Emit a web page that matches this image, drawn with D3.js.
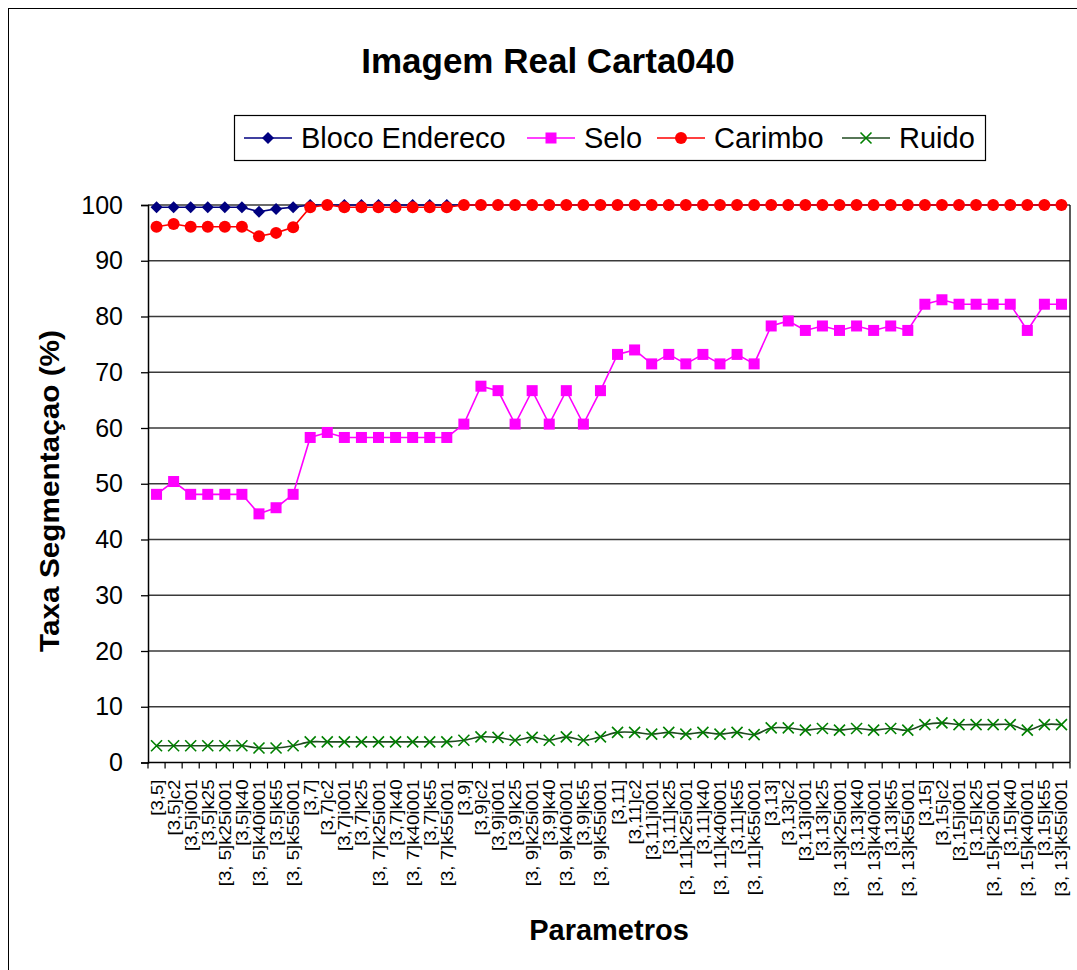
<!DOCTYPE html>
<html>
<head>
<meta charset="utf-8">
<script src="https://cdn.jsdelivr.net/npm/d3@7"></script>
<style>
  body { margin: 0; background: #fff; }
  svg text { font-family: "Liberation Sans", Arial, sans-serif; }
</style>
</head>
<body>
<svg id="chart" width="1077" height="970"></svg>
<script>
// categorie asse X (parametri)
const categories = [
  "[3,5]", "[3,5]c2", "[3,5]i001", "[3,5]k25", "[3, 5]k25i001", "[3,5]k40", "[3, 5]k40i001", "[3,5]k55", "[3, 5]k55i001",
  "[3,7]", "[3,7]c2", "[3,7]i001", "[3,7]k25", "[3, 7]k25i001", "[3,7]k40", "[3, 7]k40i001", "[3,7]k55", "[3, 7]k55i001",
  "[3,9]", "[3,9]c2", "[3,9]i001", "[3,9]k25", "[3, 9]k25i001", "[3,9]k40", "[3, 9]k40i001", "[3,9]k55", "[3, 9]k55i001",
  "[3,11]", "[3,11]c2", "[3,11]i001", "[3,11]k25", "[3, 11]k25i001", "[3,11]k40", "[3, 11]k40i001", "[3,11]k55", "[3, 11]k55i001",
  "[3,13]", "[3,13]c2", "[3,13]i001", "[3,13]k25", "[3, 13]k25i001", "[3,13]k40", "[3, 13]k40i001", "[3,13]k55", "[3, 13]k55i001",
  "[3,15]", "[3,15]c2", "[3,15]i001", "[3,15]k25", "[3, 15]k25i001", "[3,15]k40", "[3, 15]k40i001", "[3,15]k55", "[3, 13]k55i001"
];

// serie
const blocoEndereco = [
  99.6, 99.6, 99.6, 99.6, 99.6, 99.6, 98.8, 99.3, 99.6,
  100, 100, 100, 100, 100, 100, 100, 100, 100,
  100, 100, 100, 100, 100, 100, 100, 100, 100,
  100, 100, 100, 100, 100, 100, 100, 100, 100,
  100, 100, 100, 100, 100, 100, 100, 100, 100,
  100, 100, 100, 100, 100, 100, 100, 100, 100
];
const selo = [
  48.1, 50.4, 48.1, 48.1, 48.1, 48.1, 44.6, 45.7, 48.1,
  58.3, 59.2, 58.3, 58.3, 58.3, 58.3, 58.3, 58.3, 58.3,
  60.7, 67.5, 66.7, 60.7, 66.7, 60.7, 66.7, 60.7, 66.7,
  73.2, 74.0, 71.5, 73.2, 71.5, 73.2, 71.5, 73.2, 71.5,
  78.3, 79.2, 77.5, 78.3, 77.5, 78.3, 77.5, 78.3, 77.5,
  82.2, 83.0, 82.2, 82.2, 82.2, 82.2, 77.5, 82.2, 82.2
];
const carimbo = [
  96.1, 96.6, 96.1, 96.1, 96.1, 96.1, 94.4, 95.0, 96.0,
  99.6, 100, 99.6, 99.6, 99.6, 99.6, 99.6, 99.6, 99.6,
  100, 100, 100, 100, 100, 100, 100, 100, 100,
  100, 100, 100, 100, 100, 100, 100, 100, 100,
  100, 100, 100, 100, 100, 100, 100, 100, 100,
  100, 100, 100, 100, 100, 100, 100, 100, 100
];
const ruido = [
  3.0, 3.0, 3.0, 3.0, 3.0, 3.0, 2.6, 2.6, 3.0,
  3.7, 3.7, 3.7, 3.7, 3.7, 3.7, 3.7, 3.7, 3.7,
  4.0, 4.6, 4.5, 4.0, 4.5, 4.0, 4.6, 4.0, 4.6,
  5.4, 5.4, 5.1, 5.4, 5.1, 5.4, 5.1, 5.4, 5.0,
  6.2, 6.2, 5.8, 6.1, 5.8, 6.1, 5.8, 6.1, 5.8,
  6.8, 7.1, 6.8, 6.8, 6.8, 6.8, 5.8, 6.8, 6.8
];
const yTicks = [0, 10, 20, 30, 40, 50, 60, 70, 80, 90, 100];

const series = [
  { name: "Bloco Endereco", values: blocoEndereco, color: "#000080", marker: "diamond" },
  { name: "Selo", values: selo, color: "#ff00ff", marker: "square" },
  { name: "Carimbo", values: carimbo, color: "#ff0000", marker: "circle" },
  { name: "Ruido", values: ruido, color: "#008000", lineColor: "#1f4a1f", marker: "cross", smooth: true }
];

const svg = d3.select("#chart");

// bordo esterno del grafico
svg.append("rect")
  .attr("x", 8.5).attr("y", 8.5)
  .attr("width", 1100).attr("height", 1000)
  .style("fill", "none").style("stroke", "#000").style("stroke-width", 1);

const plot = { left: 148, right: 1070, top: 205, bottom: 762.5 };

// dominio per indice: l'ultima etichetta ripete "[3, 13]k55i001"
const idx = d3.range(categories.length);
const x = d3.scaleBand().domain(idx).range([plot.left, plot.right]).padding(0);
const y = d3.scaleLinear().domain([0, 100]).range([plot.bottom, plot.top]);
const cx = i => x(i) + x.bandwidth() / 2;

// griglia
svg.append("g")
  .selectAll("line")
  .data(yTicks.filter(t => t > 0))
  .enter().append("line")
  .attr("x1", plot.left).attr("x2", plot.right)
  .attr("y1", d => y(d)).attr("y2", d => y(d))
  .style("stroke", "#3a3a3a").style("stroke-width", 1.3);

// bordo destro area grafico
svg.append("line")
  .attr("x1", plot.right).attr("x2", plot.right)
  .attr("y1", plot.top).attr("y2", plot.bottom)
  .style("stroke", "#000").style("stroke-width", 1.3);

// asse Y
const yAxis = svg.append("g")
  .attr("transform", `translate(${plot.left},0)`)
  .call(d3.axisLeft(y).tickValues(yTicks).tickSize(7).tickPadding(18));
yAxis.select(".domain").style("stroke", "#000").style("stroke-width", 1.5);
yAxis.selectAll(".tick line").style("stroke", "#000").style("stroke-width", 1.3);
yAxis.selectAll(".tick text")
  .style("font-size", "25px").style("fill", "#000")
  .style("font-family", "'Liberation Sans', Arial, sans-serif");

// asse X: linea e tacche sui bordi delle categorie
svg.append("line")
  .attr("x1", plot.left).attr("x2", plot.right)
  .attr("y1", plot.bottom).attr("y2", plot.bottom)
  .style("stroke", "#000").style("stroke-width", 1.5);

const boundaries = idx.map(i => x(i)).concat([plot.right]);
svg.append("g")
  .selectAll("line")
  .data(boundaries)
  .enter().append("line")
  .attr("x1", d => d).attr("x2", d => d)
  .attr("y1", plot.bottom).attr("y2", plot.bottom + 6)
  .style("stroke", "#000").style("stroke-width", 1.2);

// etichette X ruotate (testo un po' allungato come nell'originale)
svg.append("g")
  .selectAll("text")
  .data(idx)
  .enter().append("text")
  .attr("transform", i => `translate(${cx(i) + 6},${plot.bottom + 17}) rotate(-90) scale(1.13,1)`)
  .style("text-anchor", "end")
  .style("font-size", "16.5px")
  .style("fill", "#000")
  .text(i => categories[i]);

// simboli
function drawMarker(g, type, color, px, py) {
  if (type === "diamond") {
    g.append("path")
      .attr("d", `M${px},${py - 6} L${px + 6},${py} L${px},${py + 6} L${px - 6},${py} Z`)
      .style("fill", color);
  } else if (type === "square") {
    g.append("rect")
      .attr("x", px - 5.5).attr("y", py - 5.5)
      .attr("width", 11).attr("height", 11)
      .style("fill", color);
  } else if (type === "circle") {
    g.append("circle")
      .attr("cx", px).attr("cy", py).attr("r", 6)
      .style("fill", color);
  } else if (type === "cross") {
    g.append("path")
      .attr("d", `M${px - 5.5},${py - 5.5} L${px + 5.5},${py + 5.5} M${px - 5.5},${py + 5.5} L${px + 5.5},${py - 5.5}`)
      .style("stroke", color).style("stroke-width", 1.6).style("fill", "none");
  }
}

series.forEach(s => {
  const pts = idx.map(i => [cx(i), y(s.values[i])]);
  const line = d3.line().curve(s.smooth ? d3.curveCatmullRom.alpha(0.5) : d3.curveLinear);
  svg.append("path")
    .attr("d", line(pts))
    .style("fill", "none")
    .style("stroke", s.lineColor || s.color)
    .style("stroke-width", 1.6);
  const g = svg.append("g");
  pts.forEach(p => drawMarker(g, s.marker, s.color, p[0], p[1]));
});

// titolo
svg.append("text")
  .attr("x", 548).attr("y", 73)
  .style("text-anchor", "middle")
  .style("font-size", "35px").style("font-weight", "bold")
  .text("Imagem Real Carta040");

// legenda
const legend = svg.append("g");
legend.append("rect")
  .attr("x", 234.5).attr("y", 115.5)
  .attr("width", 751).attr("height", 45)
  .style("fill", "#fff").style("stroke", "#000").style("stroke-width", 1.2);

const legendX = [244, 527, 657, 842];
series.forEach((s, i) => {
  const lx = legendX[i], ly = 138;
  legend.append("line")
    .attr("x1", lx).attr("x2", lx + 48)
    .attr("y1", ly).attr("y2", ly)
    .style("stroke", s.lineColor || s.color).style("stroke-width", 1.6);
  drawMarker(legend, s.marker, s.color, lx + 24, ly);
  legend.append("text")
    .attr("x", lx + 57).attr("y", ly + 10)
    .style("font-size", "29px")
    .text(s.name);
});

// titoli assi
svg.append("text")
  .attr("transform", "translate(59,491) rotate(-90)")
  .style("text-anchor", "middle")
  .style("font-size", "27px").style("font-weight", "bold")
  .attr("textLength", 322).attr("lengthAdjust", "spacingAndGlyphs")
  .text("Taxa Segmentaçao (%)");

svg.append("text")
  .attr("x", 609).attr("y", 940)
  .style("text-anchor", "middle")
  .style("font-size", "29px").style("font-weight", "bold")
  .text("Parametros");
</script>
</body>
</html>
